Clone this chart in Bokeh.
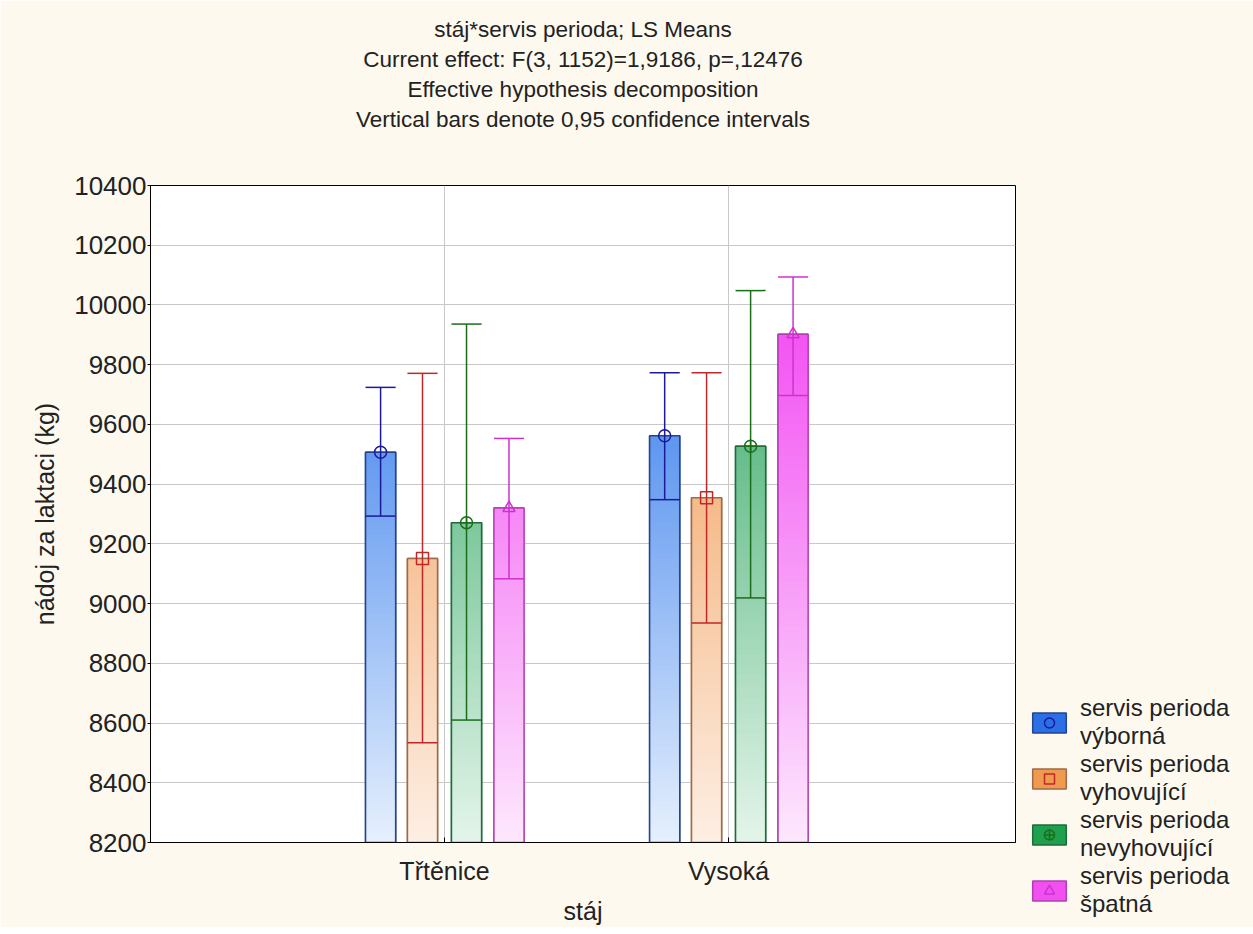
from bokeh.plotting import figure
from bokeh.models import Range1d, FixedTicker, Title, Legend, LegendItem
from bokeh.embed import file_html
from bokeh.resources import INLINE

# ---------------- data ----------------
stables = ["Třtěnice", "Vysoká"]
series_labels = ["servis perioda\nvýborná", "servis perioda\nvyhovující",
                 "servis perioda\nnevyhovující", "servis perioda\nšpatná"]

mean_vyborna = [9507, 9562]
lo_vyborna = [9293, 9348]
hi_vyborna = [9724, 9773]

mean_vyhovujici = [9151, 9354]
lo_vyhovujici = [8534, 8935]
hi_vyhovujici = [9771, 9773]

mean_nevyhovujici = [9271, 9527]
lo_nevyhovujici = [8610, 9019]
hi_nevyhovujici = [9936, 10048]

mean_spatna = [9320, 9902]
lo_spatna = [9083, 9697]
hi_spatna = [9553, 10094]

y_ticks = [8200, 8400, 8600, 8800, 9000, 9200, 9400, 9600, 9800, 10000, 10200, 10400]

title_lines = ["stáj*servis perioda; LS Means",
               "Current effect: F(3, 1152)=1,9186, p=,12476",
               "Effective hypothesis decomposition",
               "Vertical bars denote 0,95 confidence intervals"]

# ---------------- styles ----------------
FONT = "Liberation Sans"
CREAM = "#FDF9EF"
TXT = "#222222"
Y0, Y1 = y_ticks[0], y_ticks[-1]
offsets = [-0.225, -0.0775, 0.0775, 0.227]
bar_w = 0.106
full_cols = ["#0A5FE8", "#EE8A38", "#12984C", "#F028F0"]
pale_cols = ["#E6F0FD", "#FDEFE4", "#E4F5EA", "#FDE8FD"]
edge_cols = ["#24448C", "#A06A48", "#1F6B3A", "#B040B0"]
err_cols = ["#1A1A9A", "#C02828", "#1A6E1A", "#D030D0"]
swatch_cols = ["#2A6FE6", "#F09A50", "#1FA04E", "#F050F0"]
markers = ["circle", "square", "circle_cross", "triangle"]

all_series = [
    (mean_vyborna, lo_vyborna, hi_vyborna),
    (mean_vyhovujici, lo_vyhovujici, hi_vyhovujici),
    (mean_nevyhovujici, lo_nevyhovujici, hi_nevyhovujici),
    (mean_spatna, lo_spatna, hi_spatna),
]


def hex2rgb(h):
    h = h.lstrip("#")
    return [int(h[i:i + 2], 16) for i in (0, 2, 4)]


def lerp_col(c0, c1, t):
    a, b = hex2rgb(c0), hex2rgb(c1)
    return "#%02x%02x%02x" % tuple(int(round(a[i] + (b[i] - a[i]) * t)) for i in range(3))


FRAME_L, FRAME_T, FRAME_W, FRAME_H = 150, 185, 865, 657
FIG_W, FIG_H = 1237, 918

p = figure(title=None, output_backend="svg", toolbar_location=None,
           x_range=Range1d(-0.035, 3.01), y_range=Range1d(Y0, Y1),
           frame_width=FRAME_W, frame_height=FRAME_H,
           min_border_left=FRAME_L, min_border_top=FRAME_T,
           min_border_bottom=FIG_H - FRAME_T - FRAME_H,
           min_border_right=FIG_W - FRAME_L - FRAME_W)

p.background_fill_color = "white"
p.border_fill_color = CREAM
p.outline_line_color = "black"
p.outline_line_width = 1

# title: spacer next to the frame, then one Title per line (last line closest)
p.add_layout(Title(text=" ", text_font=FONT, text_font_size="22.5px", standoff=25), "above")
for line in reversed(title_lines):
    t = Title(text=line, align="center", text_font=FONT, text_font_size="22.5px",
              text_font_style="normal", text_color=TXT, standoff=3)
    p.add_layout(t, "above")

# axes
p.yaxis.ticker = FixedTicker(ticks=y_ticks)
p.xaxis.ticker = FixedTicker(ticks=[1, 2])
p.xaxis.major_label_overrides = {i + 1: s for i, s in enumerate(stables)}
p.xaxis.axis_label = "stáj"
p.yaxis.axis_label = "nádoj za laktaci (kg)"
for ax in (p.xaxis[0], p.yaxis[0]):
    ax.major_label_text_font = FONT
    ax.major_label_text_color = TXT
    ax.axis_label_text_font = FONT
    ax.axis_label_text_font_size = "25px"
    ax.axis_label_text_font_style = "normal"
    ax.axis_label_text_color = TXT
    ax.axis_line_color = "black"
    ax.major_tick_line_color = "black"
    ax.minor_tick_line_color = None
p.yaxis.major_label_text_font_size = "26px"
p.xaxis.major_label_text_font_size = "25px"
p.yaxis.major_tick_out = 3
p.yaxis.major_tick_in = 0
p.yaxis.major_label_standoff = 1
p.yaxis.axis_label_standoff = 12
p.xaxis.major_tick_out = 0
p.xaxis.major_tick_in = 5
p.xaxis.major_label_standoff = 14
p.xaxis.axis_label_standoff = 9

p.ygrid.ticker = FixedTicker(ticks=y_ticks)
p.xgrid.ticker = FixedTicker(ticks=[1, 2])
p.grid.grid_line_color = "#C8C8C8"
p.grid.grid_line_width = 1

legend_items = []
N = 80
for k, (mean, lo, hi) in enumerate(all_series):
    xs = [i + 1 + offsets[k] for i in range(len(stables))]
    # solid bar (shown in the legend, covered by the gradient in the plot)
    base = p.vbar(x=xs, top=mean, bottom=Y0, width=bar_w,
                  fill_color=swatch_cols[k], line_color=edge_cols[k], line_width=1.5)
    # gradient: overlapping slices from the bottom up (no seams)
    gx, gb, gt, gc = [], [], [], []
    for i in range(len(stables)):
        for j in range(N):
            b = Y0 + (mean[i] - Y0) * j / N
            frac = (b + (mean[i] - Y0) / (2 * N) - Y0) / (Y1 - Y0)
            gx.append(xs[i]); gb.append(b); gt.append(mean[i])
            gc.append(lerp_col(pale_cols[k], full_cols[k], frac))
    p.vbar(x=gx, bottom=gb, top=gt, width=bar_w, fill_color=gc, line_color=None)
    # outline
    p.vbar(x=xs, top=mean, bottom=Y0, width=bar_w, fill_color=None,
           line_color=edge_cols[k], line_width=1.5)
    # error bars
    p.segment(x0=xs, x1=xs, y0=lo, y1=hi, line_color=err_cols[k], line_width=1.5)
    p.segment(x0=[x - bar_w / 2 for x in xs], x1=[x + bar_w / 2 for x in xs], y0=hi, y1=hi,
              line_color=err_cols[k], line_width=1.5)
    p.segment(x0=[x - bar_w / 2 for x in xs], x1=[x + bar_w / 2 for x in xs], y0=lo, y1=lo,
              line_color=err_cols[k], line_width=1.5)
    mk = p.scatter(x=xs, y=mean, marker=markers[k], size=12, fill_alpha=0,
                   line_color=err_cols[k], line_width=1.5)
    legend_items.append(LegendItem(label=series_labels[k], renderers=[base, mk]))

legend = Legend(items=legend_items, location=(13, -76), orientation="vertical",
                background_fill_alpha=0, border_line_alpha=0,
                padding=0, margin=0, spacing=0,
                glyph_width=42, glyph_height=25, label_standoff=10,
                label_text_font=FONT, label_text_font_size="24px",
                label_text_color=TXT, label_text_line_height=1.15)
p.add_layout(legend, "right")

open("out.html", "w").write(file_html(p, INLINE))
